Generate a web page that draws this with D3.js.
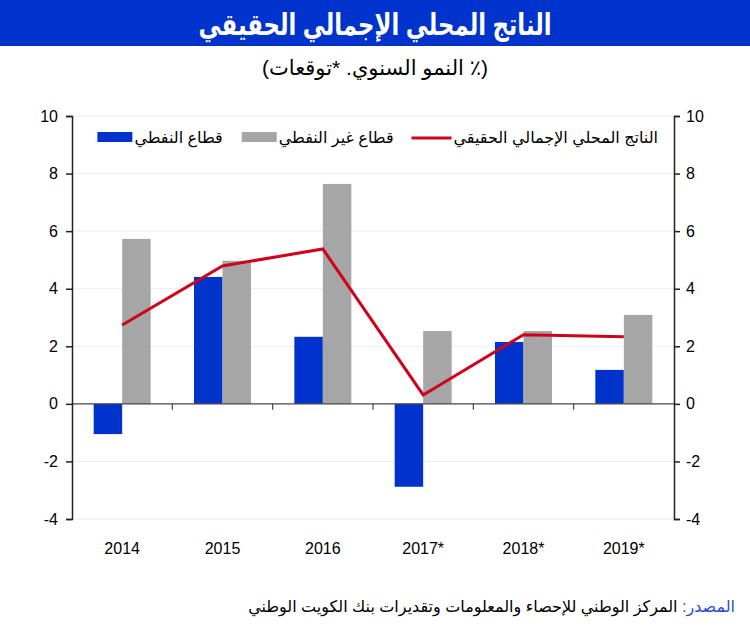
<!DOCTYPE html>
<html>
<head>
<meta charset="utf-8">
<title>GDP chart</title>
<script src="https://d3js.org/d3.v7.min.js"></script>
<style>
  body { margin: 0; background: #fff; }
  text { font-family: Arial, "Liberation Sans", "DejaVu Sans", sans-serif; }
</style>
</head>
<body>
<div id="plot"></div>
<script>
// data
var years = ['2014', '2015', '2016', '2017*', '2018*', '2019*']
var oilSector = [-1.05, 4.41, 2.33, -2.88, 2.15, 1.18]
var nonOilSector = [5.73, 4.97, 7.64, 2.53, 2.53, 3.09]
var realGdp = [2.74, 4.79, 5.38, 0.31, 2.40, 2.33]
var yTicks = [-4, -2, 0, 2, 4, 6, 8, 10]

var titleText = 'الناتج المحلي الإجمالي الحقيقي'
var subtitleText = '(٪ النمو السنوي. *توقعات)'
var seriesNames = ['الناتج المحلي الإجمالي الحقيقي', 'قطاع غير النفطي', 'قطاع النفطي']
var sourceLabel = 'المصدر:'
var sourceText = ' المركز الوطني للإحصاء والمعلومات وتقديرات بنك الكويت الوطني'

var blue = '#0033cc', grey = '#a6a6a6', red = '#d0021b'

var W = 750, H = 635
var svg = d3.select('#plot').append('svg')
  .attr('width', W).attr('height', H)

// title band
svg.append('rect').attr('x', 0).attr('y', 0).attr('width', W).attr('height', 46).attr('fill', blue)
svg.append('text')
  .attr('transform', 'translate(' + (W / 2) + ',35) scale(0.76,1)')
  .attr('text-anchor', 'middle').attr('direction', 'rtl')
  .attr('fill', '#fff').attr('font-size', 30).attr('font-weight', 'bold')
  .text(titleText)
svg.append('text')
  .attr('x', W / 2).attr('y', 75)
  .attr('text-anchor', 'middle').attr('direction', 'rtl')
  .attr('font-size', 21)
  .text(subtitleText)

var pLeft = 72, pRight = 674, pTop = 116, pBottom = 519

var x = d3.scaleBand().domain(years).range([pLeft, pRight]).padding(0)
var y = d3.scaleLinear().domain([-4, 10]).range([pBottom, pTop])
var barW = 28.5

// grid
svg.append('g').selectAll('line')
  .data(yTicks.filter(function(d){ return d !== 0 }))
  .enter().append('line')
    .attr('x1', pLeft).attr('x2', pRight)
    .attr('y1', function(d){ return y(d) }).attr('y2', function(d){ return y(d) })
    .attr('stroke', '#ececec').attr('stroke-width', 1)

// bars
var rows = years.map(function(d, i){ return {year: d, oil: oilSector[i], nonOil: nonOilSector[i], gdp: realGdp[i]} })

svg.append('g').selectAll('rect')
  .data(rows).enter().append('rect')
    .attr('x', function(d){ return x(d.year) + x.bandwidth() / 2 - barW })
    .attr('y', function(d){ return y(Math.max(0, d.oil)) })
    .attr('width', barW)
    .attr('height', function(d){ return Math.abs(y(d.oil) - y(0)) })
    .attr('fill', blue)

svg.append('g').selectAll('rect')
  .data(rows).enter().append('rect')
    .attr('x', function(d){ return x(d.year) + x.bandwidth() / 2 })
    .attr('y', function(d){ return y(Math.max(0, d.nonOil)) })
    .attr('width', barW)
    .attr('height', function(d){ return Math.abs(y(d.nonOil) - y(0)) })
    .attr('fill', grey)

// zero line with category ticks
svg.append('line')
  .attr('x1', pLeft).attr('x2', pRight).attr('y1', y(0)).attr('y2', y(0))
  .attr('stroke', '#444').attr('stroke-width', 1.2)
svg.append('g').selectAll('line')
  .data(years.slice(1)).enter().append('line')
    .attr('x1', function(d){ return x(d) }).attr('x2', function(d){ return x(d) })
    .attr('y1', y(0)).attr('y2', y(0) + 6)
    .attr('stroke', '#444').attr('stroke-width', 1.2)

// gdp line
var line = d3.line()
  .x(function(d){ return x(d.year) + x.bandwidth() / 2 })
  .y(function(d){ return y(d.gdp) })
svg.append('path').datum(rows)
  .attr('d', line).attr('fill', 'none')
  .attr('stroke', red).attr('stroke-width', 3)

// axes (plain hyphen for negatives, as in the source)
var fmt = function(d){ return String(d) }
svg.append('g').attr('transform', 'translate(' + pLeft + ',0)')
  .call(d3.axisLeft(y).tickValues(yTicks).tickSize(6).tickPadding(8).tickFormat(fmt))
svg.append('g').attr('transform', 'translate(' + pRight + ',0)')
  .call(d3.axisRight(y).tickValues(yTicks).tickSize(6).tickPadding(6).tickFormat(fmt))
svg.selectAll('.domain').attr('stroke', '#222').attr('stroke-width', 1.5)
svg.selectAll('.tick line').attr('stroke', '#222').attr('stroke-width', 1.5)
svg.selectAll('.tick text').attr('font-size', 16).attr('fill', '#000')
  .style('font-family', 'Arial, "Liberation Sans", sans-serif')

// x labels
svg.append('g').selectAll('text')
  .data(years).enter().append('text')
    .attr('x', function(d){ return x(d) + x.bandwidth() / 2 })
    .attr('y', 554)
    .attr('text-anchor', 'middle').attr('font-size', 16)
    .text(function(d){ return d })

// legend, laid out right to left
var legend = svg.append('g')
var lx = 658, ly = 143
var swatches = [
  {kind: 'line', color: red},
  {kind: 'rect', color: grey},
  {kind: 'rect', color: blue}
]
seriesNames.forEach(function(name, i){
  var t = legend.append('text')
    .attr('x', lx).attr('y', ly)
    .attr('text-anchor', 'end').attr('font-size', 16)
    .text(name)
  var tw = t.node().getComputedTextLength()
  var sx = lx - tw - 2
  if (swatches[i].kind === 'line') {
    legend.append('line')
      .attr('x1', sx - 40).attr('x2', sx).attr('y1', ly - 5).attr('y2', ly - 5)
      .attr('stroke', red).attr('stroke-width', 3)
    lx = sx - 40 - 18
  } else {
    legend.append('rect')
      .attr('x', sx - 35).attr('y', ly - 11).attr('width', 35).attr('height', 10)
      .attr('fill', swatches[i].color)
    lx = sx - 35 - 19
  }
})

// source
var src = svg.append('text')
  .attr('x', 735).attr('y', 612)
  .attr('direction', 'rtl').attr('text-anchor', 'start')
  .attr('font-size', 16)
src.append('tspan').attr('fill', '#2a4bd0').text(sourceLabel)
src.append('tspan').attr('fill', '#000').text(sourceText)
</script>
</body>
</html>
